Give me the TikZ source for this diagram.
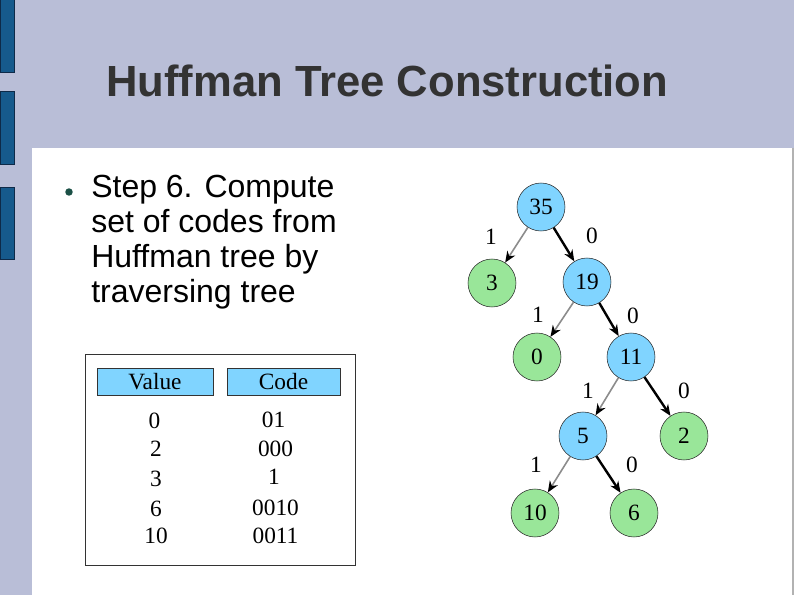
\documentclass[tikz,border=0pt]{standalone}
\usepackage{fontspec}
\setmainfont{Liberation Serif}
\newfontfamily\arialfont{Liberation Sans}
\usetikzlibrary{arrows.meta}
\definecolor{bandcol}{HTML}{B9BED7}
\definecolor{barcol}{HTML}{165A8C}
\definecolor{barline}{HTML}{0E2A48}
\definecolor{treeblue}{HTML}{80D4FF}
\definecolor{treegreen}{HTML}{99E699}
\definecolor{dotcol}{HTML}{1B5046}
\definecolor{titlecol}{HTML}{333333}
\tikzset{
  inner/.style={circle,draw=black!85,fill=treeblue,minimum size=36pt,inner sep=0pt,font=\fontsize{17.5}{19}\selectfont},
  leaf/.style={inner,fill=treegreen},
  one/.style={draw=gray!90,line width=1.2pt,-{Stealth[black,length=8.5pt,width=7pt]}},
  zero/.style={draw=black,line width=1.8pt,-{Stealth[length=8.5pt,width=7pt]}},
  bit/.style={font=\fontsize{17.5}{19}\selectfont,inner sep=0pt},
  cell/.style={font=\fontsize{17.5}{19}\selectfont,inner sep=0pt,anchor=base},
  headbox/.style={draw=black!80,fill=treeblue,minimum height=20pt,inner sep=0pt,font=\fontsize{17.5}{19}\selectfont},
}
\begin{document}
\begin{tikzpicture}[x=0.75pt,y=-0.75pt]
\useasboundingbox (0,0) rectangle (794,595);
% slide frame
\fill[bandcol] (0,0) rectangle (794,148);
\fill[bandcol] (0,148) rectangle (32,595);
\foreach \top/\bot in {-2/72,91/164,187/259}
  \draw[fill=barcol,draw=barline,line width=0.6pt] (0.3,\top) rectangle (14.3,\bot);
\draw[gray!60,line width=0.8pt] (793,148) -- (793,595);
% title and bullet
\node[anchor=base west,inner sep=0pt,text=titlecol,font=\arialfont\bfseries\fontsize{32.7}{36}\selectfont] (title) at (106,97) {Huffman Tree Construction};
\fill[dotcol] (69,192) circle[radius=2.8pt];
\node[anchor=base west,inner sep=0pt,align=left,font=\arialfont\fontsize{24}{26.25}\selectfont] (step) at (91,303)
  {Step 6. Compute\\set of codes from\\Huffman tree by\\traversing tree};
% code table
\draw[black!80,line width=0.7pt] (85,354) rectangle (355,565);
\node[headbox,minimum width=87pt] (hval) at (155,381.5) {Value};
\node[headbox,minimum width=85pt] (hcode) at (283.5,381.5) {Code};
\node[cell] (v0) at (154.5,429) {0};
\node[cell] (v2) at (156,457) {2};
\node[cell] (v3) at (156,487) {3};
\node[cell] (v6) at (156,517) {6};
\node[cell] (v10) at (156,544) {10};
\node[cell] (c0) at (273.5,428) {01};
\node[cell] (c2) at (275.5,457) {000};
\node[cell] (c3) at (274,485) {1};
\node[cell] (c6) at (275.5,516) {0010};
\node[cell] (c10) at (275.5,544) {0011};
% tree
\node[inner] (n35) at (541,207) {35};
\node[leaf] (n3) at (492,283) {3};
\node[inner] (n19) at (587,282) {19};
\node[leaf] (n0) at (537,357) {0};
\node[inner] (n11) at (631,357) {11};
\node[inner] (n5) at (583,436) {5};
\node[leaf] (n2) at (684,436) {2};
\node[leaf] (n10) at (535,513) {10};
\node[leaf] (n6) at (634,513) {6};
\draw[one] (n35) -- (n3);
\draw[zero] (n35) -- (n19);
\draw[one] (n19) -- (n0);
\draw[zero] (n19) -- (n11);
\draw[one] (n11) -- (n5);
\draw[zero] (n11) -- (n2);
\draw[one] (n5) -- (n10);
\draw[zero] (n5) -- (n6);
\node[bit] (b1) at (491,237) {1};
\node[bit] (b2) at (592,236) {0};
\node[bit] (b3) at (538,315) {1};
\node[bit] (b4) at (633,316) {0};
\node[bit] (b5) at (588,391) {1};
\node[bit] (b6) at (684,391) {0};
\node[bit] (b7) at (536,465) {1};
\node[bit] (b8) at (632,465) {0};
\end{tikzpicture}
\end{document}
